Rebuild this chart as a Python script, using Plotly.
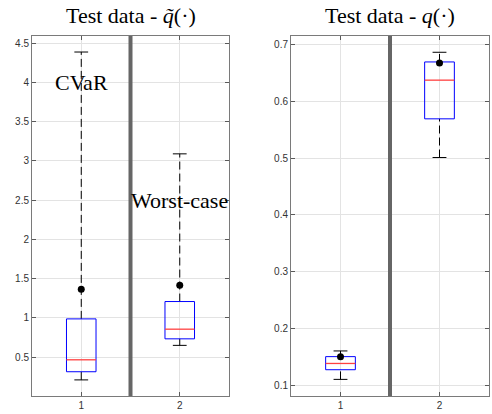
import plotly.graph_objects as go

# ---- data ----
groups = [1, 2]
# left panel: Test data - q~
left_lower = [0.21, 0.65]
left_q1 = [0.314, 0.733]
left_median = [0.466, 0.856]
left_q3 = [0.987, 1.208]
left_upper = [4.386, 3.089]
left_mean = [1.365, 1.415]
# right panel: Test data - q
right_lower = [0.111, 0.501]
right_q1 = [0.128, 0.569]
right_median = [0.139, 0.637]
right_q3 = [0.151, 0.669]
right_upper = [0.161, 0.686]
right_mean = [0.151, 0.667]

left_ticks = [0.5, 1, 1.5, 2, 2.5, 3, 3.5, 4, 4.5]
right_ticks = [0.1, 0.2, 0.3, 0.4, 0.5, 0.6, 0.7]
labels = ["CVaR", "Worst-case"]
titles = ["Test data - <i>q̃</i>(·)", "Test data - <i>q</i>(·)"]

BOX_HW = 0.15
CAP_HW = 0.07
SERIF = "Liberation Serif, DejaVu Serif, serif"

fig = go.Figure()


def add_boxes(xa, ya, lo, q1, med, q3, up, mean):
    for i, c in enumerate(groups):
        # whiskers (dashed)
        fig.add_trace(go.Scatter(x=[c, c, None, c, c], y=[q3[i], up[i], None, lo[i], q1[i]],
                                 mode="lines", line=dict(color="black", width=1, dash="8px,4px"),
                                 xaxis=xa, yaxis=ya, showlegend=False, hoverinfo="skip"))
        # caps
        fig.add_trace(go.Scatter(x=[c - CAP_HW, c + CAP_HW, None, c - CAP_HW, c + CAP_HW],
                                 y=[up[i], up[i], None, lo[i], lo[i]],
                                 mode="lines", line=dict(color="black", width=1),
                                 xaxis=xa, yaxis=ya, showlegend=False, hoverinfo="skip"))
        # box
        fig.add_trace(go.Scatter(x=[c - BOX_HW, c + BOX_HW, c + BOX_HW, c - BOX_HW, c - BOX_HW],
                                 y=[q1[i], q1[i], q3[i], q3[i], q1[i]],
                                 mode="lines", line=dict(color="blue", width=1),
                                 xaxis=xa, yaxis=ya, showlegend=False, hoverinfo="skip"))
        # median
        fig.add_trace(go.Scatter(x=[c - BOX_HW, c + BOX_HW], y=[med[i], med[i]],
                                 mode="lines", line=dict(color="#ff4040", width=1.3),
                                 xaxis=xa, yaxis=ya, showlegend=False, hoverinfo="skip"))
    # means
    fig.add_trace(go.Scatter(x=groups, y=mean, mode="markers",
                             marker=dict(color="black", size=7),
                             xaxis=xa, yaxis=ya, showlegend=False, hoverinfo="skip"))


add_boxes("x", "y", left_lower, left_q1, left_median, left_q3, left_upper, left_mean)
add_boxes("x2", "y2", right_lower, right_q1, right_median, right_q3, right_upper, right_mean)

axis_common = dict(showgrid=True, gridcolor="#e3e3e3", gridwidth=1, zeroline=False,
                   showline=True, linecolor="#7a7a7a", linewidth=1, mirror="ticks",
                   ticks="inside", ticklen=4, tickcolor="#5a5a5a",
                   tickfont=dict(family="Liberation Sans, Arial, sans-serif", size=10, color="#333333"))

fig.update_layout(
    width=492, height=414,
    margin=dict(l=0, r=0, t=0, b=0),
    paper_bgcolor="white", plot_bgcolor="white",
    xaxis=dict(domain=[32 / 492, 229 / 492], range=[0.5, 2.5], tickvals=groups,
               ticktext=[str(g) for g in groups], anchor="y", **axis_common),
    yaxis=dict(domain=[1 - 396 / 414, 1 - 36 / 414], range=[0.005, 4.59], tickvals=left_ticks,
               ticktext=[f"{t:g}" for t in left_ticks], anchor="x", **axis_common),
    xaxis2=dict(domain=[291 / 492, 489 / 492], range=[0.5, 2.5], tickvals=groups,
                ticktext=[str(g) for g in groups], anchor="y2", **axis_common),
    yaxis2=dict(domain=[1 - 396 / 414, 1 - 36 / 414], range=[0.0818, 0.7146], tickvals=right_ticks,
                ticktext=[f"{t:g}" for t in right_ticks], anchor="x2", **axis_common),
    showlegend=False,
)

# dividers
for xr, yr in [("x", "y domain"), ("x2", "y2 domain")]:
    fig.add_shape(type="line", xref=xr, yref=yr, x0=1.5, x1=1.5, y0=0, y1=1,
                  line=dict(color="#666666", width=4), layer="above")

# titles
for xr, t in [("x domain", titles[0]), ("x2 domain", titles[1])]:
    fig.add_annotation(xref=xr, yref="paper", x=0.5, y=1 - 16 / 414, text=t, showarrow=False,
                       font=dict(family=SERIF, size=22, color="black"), yanchor="middle")

# group labels
fig.add_annotation(xref="x", yref="y", x=groups[0], y=4.0, text=labels[0], showarrow=False,
                   font=dict(family=SERIF, size=22, color="black"))
fig.add_annotation(xref="x", yref="y", x=groups[1], y=2.5, text=labels[1], showarrow=False,
                   font=dict(family=SERIF, size=22, color="black"))

fig.write_html("out.html", config={"displayModeBar": False},
               post_script="document.body.style.margin='0';document.body.style.overflow='hidden';")
